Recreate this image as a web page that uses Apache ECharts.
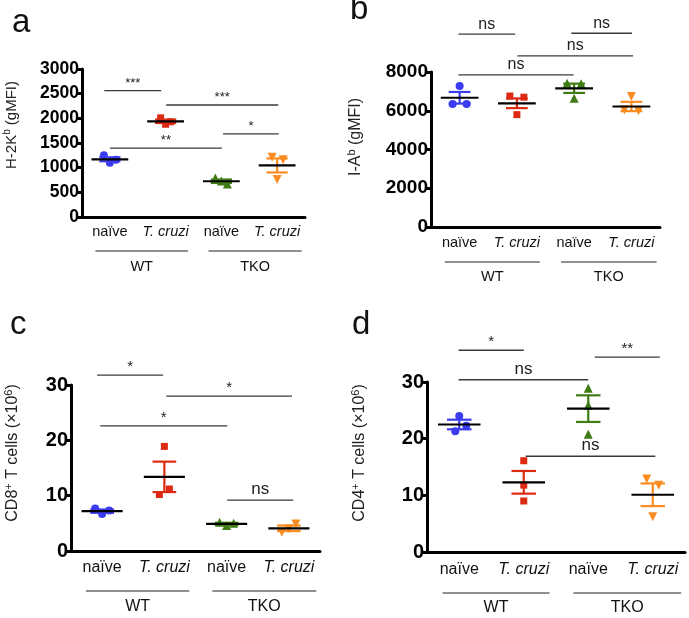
<!DOCTYPE html>
<html><head><meta charset="utf-8">
<script src="https://cdn.jsdelivr.net/npm/echarts/dist/echarts.min.js"></script>
<style>html,body{margin:0;padding:0;background:#fff}#c{width:689px;height:618px}</style>
</head><body><div id="c"></div>
<script>
// ---------- data ----------
const categories = ['naïve', 'T. cruzi', 'naïve', 'T. cruzi'];
const groups = ['WT', 'TKO'];
const groupSpans = [[-0.26, 1.40], [1.77, 3.44]];

// panel a: H-2Kb (gMFI)
const aPoints = [[1250, 1160, 1100], [2010, 1930, 1880], [790, 730, 670], [1210, 1160, 760]];
const aMeans = [1170, 1940, 725, 1045];
const aSems = [40, 35, 35, 142];
const aBrackets = [[-0.10, 0.92, 2560, '***'], [1.01, 3.02, 2270, '***'], [2.03, 3.03, 1683, '*'], [0.00, 2.01, 1395, '**']];

// panel b: I-Ab (gMFI)
const bPoints = [[7280, 6350, 6350], [6760, 6700, 5800], [7420, 7400, 6640], [6730, 6040, 6000]];
const bMeans = [6670, 6385, 7160, 6220];
const bSems = [300, 250, 240, 240];
const bBrackets = [[-0.02, 0.97, 9950, 'ns'], [1.95, 3.01, 10000, 'ns'], [1.01, 3.03, 8830, 'ns'], [-0.02, 1.99, 7850, 'ns']];

// panel c: CD8+ T cells (x10^6)
const cPoints = [[7.7, 7.3, 6.7], [18.9, 11.2, 10.2], [5.2, 5.0, 4.6], [4.9, 4.0, 3.4]];
const cMeans = [7.2, 13.4, 4.9, 4.1];
const cSems = [0.3, 2.75, 0.2, 0.5];
const cBrackets = [[-0.08, 0.98, 31.8, '*'], [1.03, 3.05, 28.0, '*'], [-0.03, 2.01, 22.6, '*'], [2.01, 3.07, 9.2, 'ns']];

// panel d: CD4+ T cells (x10^6)
const dPoints = [[24.0, 22.3, 21.3], [16.1, 11.8, 9.0], [28.9, 25.9, 20.8], [12.9, 11.8, 6.2]];
const dMeans = [22.5, 12.3, 25.3, 10.1];
const dSems = [0.85, 2.0, 2.35, 2.0];
const dBrackets = [[-0.01, 1.00, 35.6, '*'], [2.10, 3.11, 34.4, '**'], [-0.01, 2.00, 30.4, 'ns'], [1.03, 3.04, 16.9, 'ns']];

const aAxis = [0, 3000, 500];
const bAxis = [0, 8000, 2000];
const cAxis = [0, 30, 10];
const dAxis = [0, 30, 10];

// ---------- style ----------
const FONT = "'Liberation Sans', Arial, Helvetica, sans-serif";
const COLORS = ['#3b3bef', '#dd2a12', '#3f7c14', '#fb8c22'];
const SYMBOLS = ['circle', 'rect', 'triangle', 'triangle'];
const ROTATE = [0, 0, 0, 180];
const SIZES = [8, 7, 9, 9];

const panels = [
  {grid:{left:82, top:69, width:223, height:148}, axis:aAxis, points:aPoints, means:aMeans, sems:aSems, brackets:aBrackets,
   jitter:[[-6,6,0],[-5,5,0],[-6,0,6],[-5,6,0]], tickFont:17.5, catFont:14.5, catMargin:7, sigFont:13, nsFont:15, gLine:34, gLabel:50, gFont:14.5},
  {grid:{left:431, top:72, width:229, height:155}, axis:bAxis, points:bPoints, means:bMeans, sems:bSems, brackets:bBrackets,
   jitter:[[0,-7,7],[-7,7,0],[-7,7,0],[0,-7,7]], tickFont:19, catFont:14.5, catMargin:8, sigFont:13, nsFont:16, gLine:35, gLabel:50, gFont:14.5},
  {grid:{left:71, top:385, width:249, height:166}, axis:cAxis, points:cPoints, means:cMeans, sems:cSems, brackets:cBrackets,
   jitter:[[-7,7,0],[0,5,-5],[-7,7,0],[7,0,-7]], tickFont:20, catFont:16, catMargin:9, sigFont:15, nsFont:17, gLine:40, gLabel:56, gFont:16},
  {grid:{left:427, top:382, width:258, height:170}, axis:dAxis, points:dPoints, means:dMeans, sems:dSems, brackets:dBrackets,
   jitter:[[0,7,-4],[0,0,0],[0,0,0],[-6,6,0]], tickFont:20, catFont:16, catMargin:10, sigFont:15, nsFont:17, gLine:41, gLabel:56, gFont:16}
];

const yNames = [
  {x:12, y:125, size:15, text:'{n|H-2K}{s|b}{n| (gMFI)}'},
  {x:356, y:137, size:16, text:'{n|I-A}{s|b}{n| (gMFI)}'},
  {x:13, y:453, size:16, text:'{n|CD8}{s|+}{n| T cells (×10}{s|6}{n|)}'},
  {x:360, y:453, size:16, text:'{n|CD4}{s|+}{n| T cells (×10}{s|6}{n|)}'}
];
const letters = [
  {t:'a', x:12, y:23}, {t:'b', x:350, y:10}, {t:'c', x:10, y:325}, {t:'d', x:352, y:325}
];

const option = {animation:false, backgroundColor:'#fff', grid:[], xAxis:[], yAxis:[], series:[], graphic:[]};

panels.forEach((p, i) => {
  option.grid.push(Object.assign({containLabel:false}, p.grid));
  option.xAxis.push({
    type:'category', gridIndex:i, data:categories,
    axisLine:{onZero:false, lineStyle:{color:'#000', width:3}},
    axisTick:{show:false},
    axisLabel:{interval:0, margin:p.catMargin, color:'#111',
      formatter:(v) => v === 'T. cruzi' ? '{i|' + v + '}' : '{n|' + v + '}',
      rich:{i:{fontStyle:'italic', fontSize:p.catFont, fontFamily:FONT, color:'#111'},
            n:{fontSize:p.catFont, fontFamily:FONT, color:'#111'}}}
  });
  option.xAxis.push({type:'value', gridIndex:i, min:-0.5, max:3.5, show:false});
  option.yAxis.push({
    type:'value', gridIndex:i, min:p.axis[0], max:p.axis[1], interval:p.axis[2],
    axisLine:{show:true, onZero:false, lineStyle:{color:'#000', width:3}},
    axisTick:{show:true, length:6, lineStyle:{color:'#000', width:3}},
    splitLine:{show:false},
    axisLabel:{fontWeight:'bold', fontSize:p.tickFont, fontFamily:FONT, color:'#000', margin:3,
      formatter:(v) => String(v)}
  });
  const xi = 2 * i + 1;
  // points
  p.points.forEach((vals, g) => {
    option.series.push({
      type:'scatter', xAxisIndex:xi, yAxisIndex:i, symbol:SYMBOLS[g], symbolRotate:ROTATE[g], symbolSize:SIZES[g],
      itemStyle:{color:COLORS[g], opacity:1}, z:2,
      data: vals.map((v, k) => ({value:[g, v], symbolOffset:[p.jitter[g][k], 0]}))
    });
  });
  // mean +/- SEM
  option.series.push({
    type:'custom', xAxisIndex:xi, yAxisIndex:i, clip:false, z:3,
    data: p.means.map((m, g) => [g, m, p.sems[g]]),
    encode:{x:0, y:1},
    renderItem:(params, api) => {
      const g = api.value(0), m = api.value(1), s = api.value(2);
      const band = api.size([1, 0])[0];
      const mw = band * 0.66, cw = band * 0.38;
      const c = api.coord([g, m]), hi = api.coord([g, m + s]), lo = api.coord([g, m - s]);
      const col = COLORS[params.dataIndex];
      const ln = (x1, y1, x2, y2, stroke) => ({type:'line', shape:{x1, y1, x2, y2}, style:{stroke, lineWidth:2.2}});
      return {type:'group', children:[
        ln(c[0], hi[1], c[0], lo[1], col),
        ln(c[0] - cw / 2, hi[1], c[0] + cw / 2, hi[1], col),
        ln(c[0] - cw / 2, lo[1], c[0] + cw / 2, lo[1], col),
        ln(c[0] - mw / 2, c[1], c[0] + mw / 2, c[1], '#000')
      ]};
    }
  });
  // significance brackets
  option.series.push({
    type:'custom', xAxisIndex:xi, yAxisIndex:i, clip:false, z:4,
    data: p.brackets.map(b => [b[0], b[1], b[2]]),
    encode:{x:[0, 1], y:2},
    renderItem:(params, api) => {
      const b = p.brackets[params.dataIndex];
      const p1 = api.coord([api.value(0), api.value(2)]), p2 = api.coord([api.value(1), api.value(2)]);
      const isNs = b[3] === 'ns';
      return {type:'group', children:[
        {type:'line', shape:{x1:p1[0], y1:p1[1], x2:p2[0], y2:p2[1]}, style:{stroke:'#3a3a3a', lineWidth:1.3}},
        {type:'text', x:(p1[0] + p2[0]) / 2, y:p1[1] - (isNs ? 2 : 1),
         style:{text:b[3], fill:'#222', fontFamily:FONT, fontSize:isNs ? p.nsFont : p.sigFont, align:'center', verticalAlign:'bottom'}}
      ]};
    }
  });
  // group lines
  option.series.push({
    type:'custom', xAxisIndex:xi, yAxisIndex:i, clip:false, z:4,
    data: groupSpans.map(s => [s[0], s[1]]),
    encode:{x:[0, 1]},
    renderItem:(params, api) => {
      const p1 = api.coord([api.value(0), p.axis[0]]), p2 = api.coord([api.value(1), p.axis[0]]);
      const y = p1[1] + p.gLine;
      return {type:'group', children:[
        {type:'line', shape:{x1:p1[0], y1:y, x2:p2[0], y2:y}, style:{stroke:'#222', lineWidth:1.2}},
        {type:'text', x:(p1[0] + p2[0]) / 2, y:p1[1] + p.gLabel,
         style:{text:groups[params.dataIndex], fill:'#111', fontFamily:FONT, fontSize:p.gFont, align:'center', verticalAlign:'middle'}}
      ]};
    }
  });
});

yNames.forEach(n => {
  option.graphic.push({type:'text', x:n.x, y:n.y, rotation:Math.PI / 2,
    style:{text:n.text, align:'center', verticalAlign:'middle', fill:'#222',
      rich:{n:{fontSize:n.size, fontFamily:FONT, fill:'#222', lineHeight:n.size + 4},
            s:{fontSize:Math.round(n.size * 0.68), fontFamily:FONT, fill:'#222', verticalAlign:'top', lineHeight:n.size + 4}}}});
});
letters.forEach(l => {
  option.graphic.push({type:'text', x:l.x, y:l.y,
    style:{text:l.t, fontSize:33, fontFamily:FONT, fill:'#111', align:'left', verticalAlign:'middle'}});
});

const chart = echarts.init(document.getElementById('c'), null, {renderer:'canvas'});
chart.setOption(option);
</script>
</body></html>
